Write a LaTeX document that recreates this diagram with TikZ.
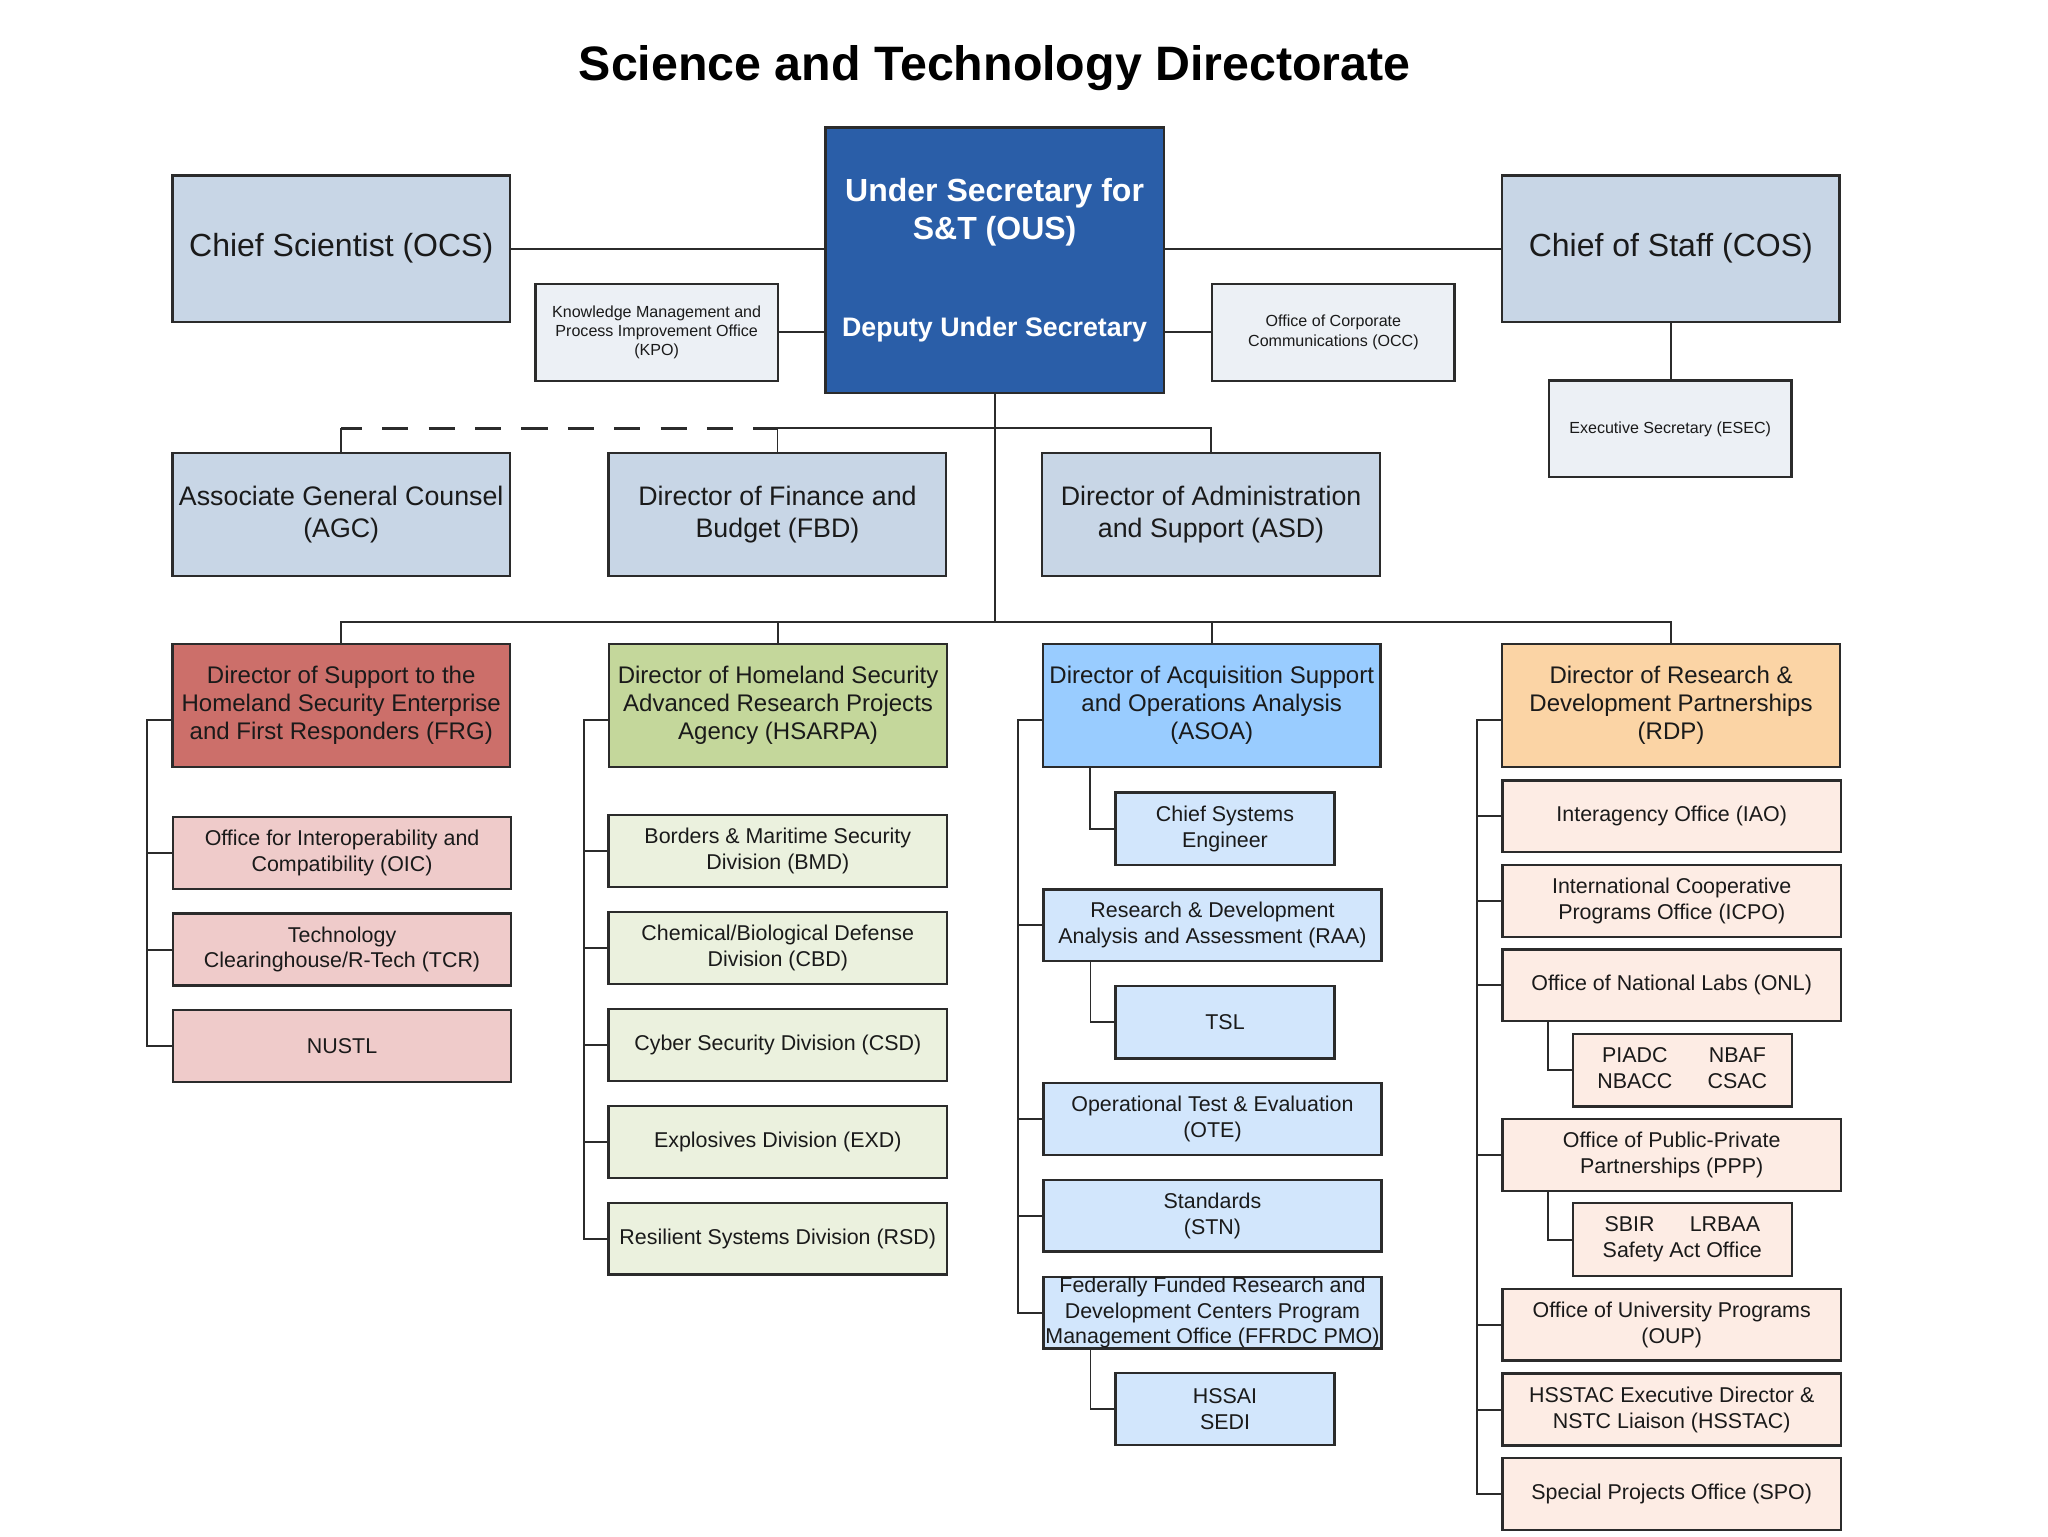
\documentclass[tikz,border=0pt]{standalone}
\usepackage{fontspec}
\setmainfont{Liberation Sans}
\usepackage{xcolor}
\usepackage{tikz}

\definecolor{edge}{HTML}{2B2B2B}
\definecolor{ink}{HTML}{1A1A1A}
\definecolor{ousblue}{HTML}{2A5EA8}
\definecolor{steel}{HTML}{C8D6E6}
\definecolor{mist}{HTML}{ECF0F5}
\definecolor{frgred}{HTML}{CC6F6A}
\definecolor{frglight}{HTML}{EFCBCA}
\definecolor{hsgreen}{HTML}{C4D79B}
\definecolor{hslight}{HTML}{EBF1DE}
\definecolor{asblue}{HTML}{99CCFF}
\definecolor{aslight}{HTML}{D2E6FC}
\definecolor{rdpeach}{HTML}{FBD4A5}
\definecolor{rdlight}{HTML}{FDECE4}

\begin{document}
\begin{tikzpicture}[x=1pt,y=-1pt,
  box/.style={draw=edge,line width=1.8pt,inner sep=0pt,align=center,text=ink},
  ousbox/.style={draw=edge,line width=1.8pt,fill=ousblue,minimum width=259pt,minimum height=203.5pt},
  topbox/.style={box,fill=steel,minimum width=258.5pt,minimum height=112pt,font=\fontsize{24.5}{29}\selectfont},
  staffbox/.style={box,fill=mist,minimum width=185.5pt,minimum height=74pt,font=\fontsize{12.3}{14.8}\selectfont},
  deptbox/.style={box,fill=steel,minimum width=258.5pt,minimum height=94pt,font=\fontsize{20.5}{24.2}\selectfont},
  headbox/.style={box,minimum width=258.5pt,minimum height=94pt,font=\fontsize{18.4}{21.7}\selectfont},
  unitbox/.style={box,minimum width=259pt,minimum height=55pt,font=\fontsize{16.4}{19.7}\selectfont},
  subunit/.style={unitbox,minimum width=167.5pt,minimum height=55.5pt},
  conn/.style={draw=edge,line width=1.5pt}]
\useasboundingbox (0,0) rectangle (1568,1176);

% title
\node[font=\bfseries\fontsize{37}{44}\selectfont,anchor=base] (title) at (761.5,62) {Science and Technology Directorate};

% front office
\node[ousbox] (ous) at (761.5,199.25) {};
\node[white,align=center,font=\bfseries\fontsize{24.5}{29}\selectfont] (oustxt) at (761.5,162.5) {Under Secretary for\\S\&T (OUS)};
\node[white,font=\bfseries\fontsize{20.5}{24}\selectfont] (dustxt) at (761.5,252.5) {Deputy Under Secretary};
\node[topbox] (ocs) at (261.25,190.4) {Chief Scientist (OCS)};
\node[topbox] (cos) at (1279.2,190.4) {Chief of Staff (COS)};
\node[staffbox] (kpo) at (502.75,254.5) {Knowledge Management and\\Process Improvement Office\\(KPO)};
\node[staffbox] (occ) at (1020.9,254.5) {Office of Corporate\\Communications (OCC)};
\node[staffbox] (esec) at (1278.75,328.4) {Executive Secretary (ESEC)};

\draw[conn] (ocs.east) -- (ocs.east -| ous.west);
\draw[conn] (cos.west) -- (cos.west -| ous.east);
\draw[conn] (kpo.east) -- (kpo.east -| ous.west);
\draw[conn] (occ.west) -- (occ.west -| ous.east);
\draw[conn] (cos.south) -- (cos.south |- esec.north);

% support offices
\coordinate (bus1) at (761.5,328);
\coordinate (bus2) at (761.5,476.5);
\node[deptbox] (agc) at (261.25,394) {Associate General Counsel\\(AGC)};
\node[deptbox] (fbd) at (595.25,394) {Director of Finance and\\Budget (FBD)};
\node[deptbox] (asd) at (927.2,394) {Director of Administration\\and Support (ASD)};

\draw[conn] (ous.south) -- (bus2);
\draw[conn] (fbd.north) |- (bus1 -| asd.north) -- (asd.north);
\draw[conn] (agc.north) -- (agc.north |- bus1);
\draw[conn,line width=1.8pt,dash pattern=on 20pt off 15.5pt,dash phase=4pt] (agc.north |- bus1) -- (fbd.north |- bus1);

% technical directors
\node[headbox,fill=frgred] (frg) at (261.25,540) {Director of Support to the\\Homeland Security Enterprise\\and First Responders (FRG)};
\node[headbox,fill=hsgreen] (hsarpa) at (595.7,540) {Director of Homeland Security\\Advanced Research Projects\\Agency (HSARPA)};
\node[headbox,fill=asblue] (asoa) at (927.7,540) {Director of Acquisition Support\\and Operations Analysis\\(ASOA)};
\node[headbox,fill=rdpeach] (rdp) at (1279.4,540) {Director of Research \&\\Development Partnerships\\(RDP)};

\draw[conn] (frg.north) |- (bus2 -| rdp.north) -- (rdp.north);
\draw[conn] (hsarpa.north) -- (hsarpa.north |- bus2);
\draw[conn] (asoa.north) -- (asoa.north |- bus2);

% FRG units
\node[unitbox,fill=frglight] (oic) at (261.9,653) {Office for Interoperability and\\Compatibility (OIC)};
\node[unitbox,fill=frglight] (tcr) at (261.9,727) {Technology\\Clearinghouse/R-Tech (TCR)};
\node[unitbox,fill=frglight] (nustl) at (261.9,801) {NUSTL};
\draw[conn] ([yshift=-11pt]frg.west) -- ++(-18.5,0) |- (nustl.west);
\foreach \u in {oic,tcr} \draw[conn] (\u.west) -- ++(-18.5,0);

% HSARPA units
\node[unitbox,fill=hslight] (bmd) at (595.5,651.7) {Borders \& Maritime Security\\Division (BMD)};
\node[unitbox,fill=hslight] (cbd) at (595.5,725.9) {Chemical/Biological Defense\\Division (CBD)};
\node[unitbox,fill=hslight] (csd) at (595.5,800.1) {Cyber Security Division (CSD)};
\node[unitbox,fill=hslight] (exd) at (595.5,874.3) {Explosives Division (EXD)};
\node[unitbox,fill=hslight] (rsd) at (595.5,948.4) {Resilient Systems Division (RSD)};
\draw[conn] ([yshift=-11pt]hsarpa.west) -- ++(-18.5,0) |- (rsd.west);
\foreach \u in {bmd,cbd,csd,exd} \draw[conn] (\u.west) -- ++(-18.5,0);

% ASOA units
\node[subunit,fill=aslight] (cse) at (937.9,634.5) {Chief Systems\\Engineer};
\node[unitbox,fill=aslight] (raa) at (928.3,708.4) {Research \& Development\\Analysis and Assessment (RAA)};
\node[subunit,fill=aslight] (tsl) at (937.9,782.7) {TSL};
\node[unitbox,fill=aslight] (ote) at (928.3,856.7) {Operational Test \& Evaluation\\(OTE)};
\node[unitbox,fill=aslight] (stn) at (928.3,930.7) {Standards\\(STN)};
\node[unitbox,fill=aslight] (ffrdc) at (928.3,1005) {Federally Funded Research and\\Development Centers Program\\Management Office (FFRDC PMO)};
\node[subunit,fill=aslight] (hssai) at (937.9,1078.7) {HSSAI\\SEDI};
\draw[conn] ([yshift=-11pt]asoa.west) -- ++(-18.5,0) |- (ffrdc.west);
\foreach \u in {raa,ote,stn} \draw[conn] (\u.west) -- ++(-18.5,0);
\draw[conn] ([xshift=37pt]asoa.south west) |- (cse.west);
\draw[conn] ([xshift=37pt]raa.south west) |- (tsl.west);
\draw[conn] ([xshift=37pt]ffrdc.south west) |- (hssai.west);

% RDP units
\node[unitbox,fill=rdlight] (iao) at (1279.9,625) {Interagency Office (IAO)};
\node[unitbox,fill=rdlight] (icpo) at (1279.9,690) {International Cooperative\\Programs Office (ICPO)};
\node[unitbox,fill=rdlight] (onl) at (1279.9,754.4) {Office of National Labs (ONL)};
\node[subunit,fill=rdlight] (labs) at (1288,819.5) {\begin{tabular}{@{}c@{\hspace{27pt}}c@{}}PIADC & NBAF\\NBACC & CSAC\end{tabular}};
\node[unitbox,fill=rdlight] (ppp) at (1279.9,884.4) {Office of Public-Private\\Partnerships (PPP)};
\node[subunit,fill=rdlight] (sbir) at (1288,949) {SBIR\hspace{27pt}LRBAA\\Safety Act Office};
\node[unitbox,fill=rdlight] (oup) at (1279.9,1014.2) {Office of University Programs\\(OUP)};
\node[unitbox,fill=rdlight] (hsstac) at (1279.9,1079.2) {HSSTAC Executive Director \&\\NSTC Liaison (HSSTAC)};
\node[unitbox,fill=rdlight] (spo) at (1279.9,1143.8) {Special Projects Office (SPO)};
\draw[conn] ([yshift=-11pt]rdp.west) -- ++(-18.5,0) |- (spo.west);
\foreach \u in {iao,icpo,onl,ppp,oup,hsstac} \draw[conn] (\u.west) -- ++(-18.5,0);
\draw[conn] ([xshift=36pt]onl.south west) |- (labs.west);
\draw[conn] ([xshift=36pt]ppp.south west) |- (sbir.west);
\end{tikzpicture}
\end{document}
